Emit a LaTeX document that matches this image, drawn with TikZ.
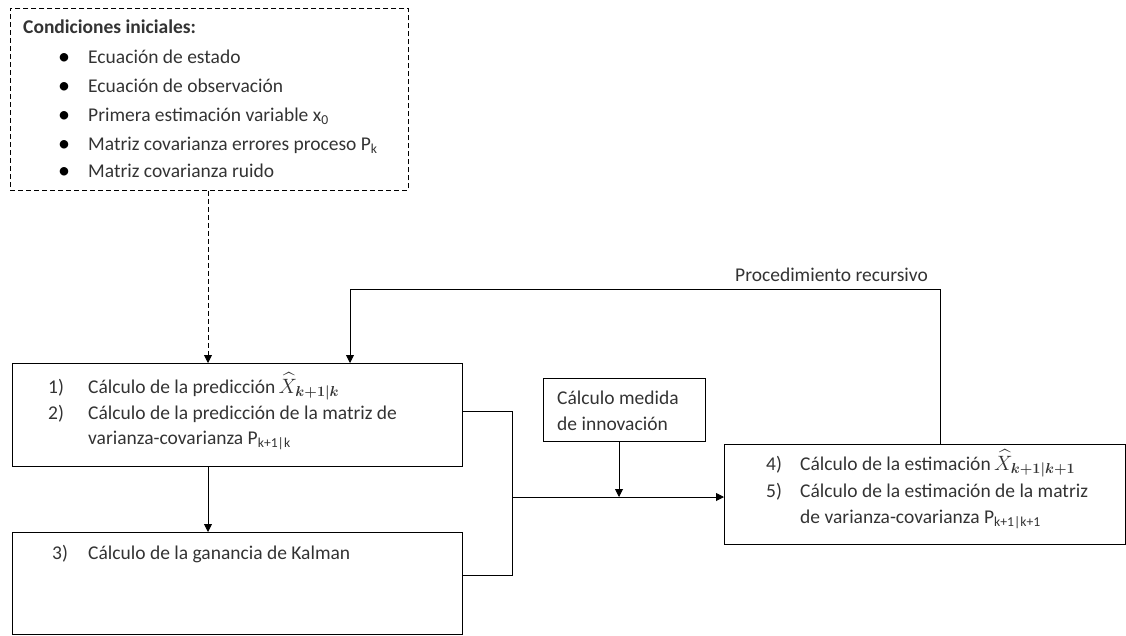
\documentclass[tikz,border=0pt]{standalone}
\usepackage{amsmath}
\usepackage{bm}
\usepackage{fontspec}
\setmainfont{Carlito}
\usetikzlibrary{arrows.meta}
\begin{document}
\begin{tikzpicture}[x=1pt,y=-1pt,
  font=\fontsize{19.5}{23}\selectfont,
  box/.style={draw, line width=0.9pt, anchor=north west, inner sep=0pt},
  txt/.style={anchor=base west, inner sep=0pt, text=black!80},
  bul/.style={anchor=base west, inner sep=0pt, text=black, font=\fontsize{24}{24}\selectfont},
  conn/.style={line width=0.9pt},
  arr/.style={conn, -{Triangle[length=8pt,width=8pt]}}]
\useasboundingbox (0,0) rectangle (1126,635);
% boxes
\node[box, dash pattern=on 5pt off 3pt, minimum width=398pt, minimum height=182pt] (ci) at (10,8) {};
\node[box, minimum width=450pt, minimum height=103pt] (b1) at (12,363) {};
\node[box, minimum width=450pt, minimum height=102pt] (b3) at (12,532) {};
\node[box, minimum width=162pt, minimum height=63pt] (inn) at (543,378) {};
\node[box, minimum width=401pt, minimum height=100pt] (b4) at (724,444) {};
% texts in initial conditions
\node[txt, font=\fontsize{19.5}{23}\selectfont\bfseries] (t0) at (23,33) {Condiciones iniciales:};
\node[bul] (bu1) at (58,64) {\textbullet};
\node[txt] (t1) at (88,63) {Ecuación de estado};
\node[bul] (bu2) at (58,93) {\textbullet};
\node[txt] (t2) at (88,92) {Ecuación de observación};
\node[bul] (bu3) at (58,122) {\textbullet};
\node[txt] (t3) at (88,121) {Primera estimación variable x\textsubscript{0}};
\node[bul] (bu4) at (58,151) {\textbullet};
\node[txt] (t4) at (88,150) {Matriz covarianza errores proceso P\textsubscript{k}};
\node[bul] (bu5) at (58,178) {\textbullet};
\node[txt] (t5) at (88,177) {Matriz covarianza ruido};
% box 1
\node[txt] (n1) at (48,393) {1)};
\node[txt] (l1) at (88,393) {Cálculo de la predicción\,$\widehat{X}_{\bm{k+1|k}}$};
\node[txt] (n2) at (48,419) {2)};
\node[txt] (l2) at (88,419) {Cálculo de la predicción de la matriz de};
\node[txt] (l3) at (88,444) {varianza-covarianza P\textsubscript{k+1|k}};
% box 3
\node[txt] (n3) at (52,559) {3)};
\node[txt] (l4) at (88,559) {Cálculo de la ganancia de Kalman};
% innovation
\node[txt] (i1) at (557,404) {Cálculo medida};
\node[txt] (i2) at (557,430) {de innovación};
% box 4
\node[txt] (n4) at (766,470) {4)};
\node[txt] (l5) at (800,470) {Cálculo de la estimación\,$\widehat{X}_{\bm{k+1|k+1}}$};
\node[txt] (n5) at (766,497) {5)};
\node[txt] (l6) at (800,497) {Cálculo de la estimación de la matriz};
\node[txt] (l7) at (800,523) {de varianza-covarianza P\textsubscript{k+1|k+1}};
% recursion label
\node[txt] (rec) at (735,281) {Procedimiento recursivo};
% coordinates
\coordinate (j) at (512,497);
\coordinate (r1) at (940,289);
\coordinate (r2) at (350,289);
\coordinate (c1) at (208,0);
\coordinate (c2) at (619,0);
\coordinate (o1) at (0,411);
\coordinate (o3) at (0,575);
% connectors
\draw[arr, dash pattern=on 5pt off 3pt] (ci.south -| c1) -- (b1.north -| c1);
\draw[arr] (b1.south -| c1) -- (b3.north -| c1);
\draw[conn] (b1.east |- o1) -- (j |- o1) -- (j |- o3) -- (b3.east |- o3);
\draw[arr] (j) -- (b4.west |- j);
\draw[arr] (inn.south -| c2) -- (j -| c2);
\draw[arr] (b4.north -| r1) -- (r1) -- (r2) -- (b1.north -| r2);
\end{tikzpicture}
\end{document}
